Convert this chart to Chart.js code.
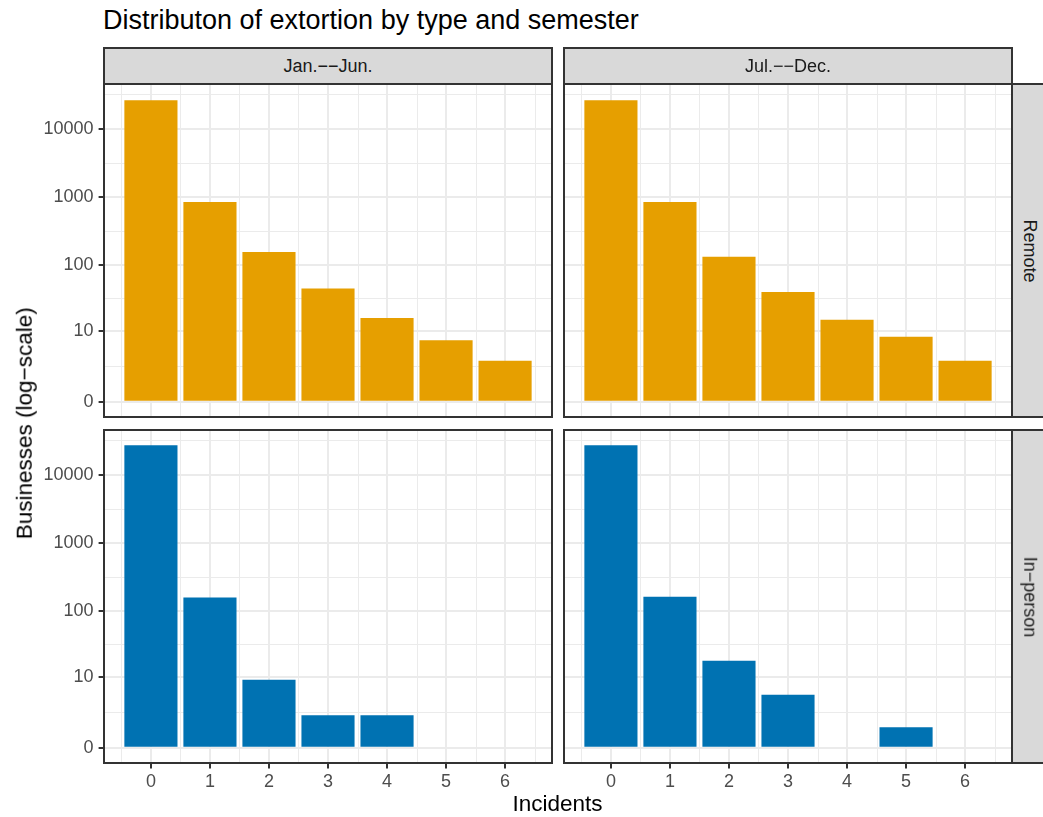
<!DOCTYPE html>
<html><head><meta charset="utf-8">
<script src="https://cdn.jsdelivr.net/npm/chart.js@4.4.1/dist/chart.umd.min.js"></script>
<style>
html,body{margin:0;padding:0;background:#fff;overflow:hidden;}
#root{position:relative;width:1043px;height:817px;overflow:hidden;font-family:"Liberation Sans",Arial,sans-serif;background:#fff;}
canvas{position:absolute;}
.strip{position:absolute;box-sizing:border-box;background:#D9D9D9;border:2px solid #333333;display:flex;align-items:center;justify-content:center;color:#1A1A1A;font-size:18px;line-height:1;white-space:nowrap;overflow:hidden;}
.txt{position:absolute;line-height:1;white-space:nowrap;color:#000;}
</style></head><body><div id="root"></div>
<script>
// ---- data ----
const incidents = [0, 1, 2, 3, 4, 5, 6];
const semesters = ["Jan.−−Jun.", "Jul.−−Dec."];
const extortionTypes = ["Remote", "In−person"];
const remoteJanJun = [26850, 860, 158, 45, 16, 7, 3];
const remoteJulDec = [26850, 860, 134, 40, 15, 8, 3];
const inPersonJanJun = [27800, 160, 9, 2, 2, 0, 0];
const inPersonJulDec = [27800, 164, 18, 5, 0, 1, 0];
const yTickLabels = [0, 10, 100, 1000, 10000];
const xTickLabels = [0, 1, 2, 3, 4, 5, 6];
const typeColors = ["#E69F00", "#0072B2"];

// ---- layout / style ----
const FONT = '"Liberation Sans", Arial, sans-serif';
const GRID = '#EBEBEB';
const INK = '#333333';
const PW = 448, PH = 333, M = 6, AXH = 40;
const colX = [104, 564], rowY = [84, 430];

Chart.defaults.font.family = FONT;

const tr = v => Math.log10(v + 1);
const allSeries = [remoteJanJun, remoteJulDec, inPersonJanJun, inPersonJulDec];
const maxT = Math.max(...allSeries.flat().map(tr));
const yLo = 0 - 0.05 * maxT, yHi = maxT + 0.05 * maxT;
const xHalf = 0.45;
const xr0 = Math.min(...incidents) - xHalf, xr1 = Math.max(...incidents) + xHalf;
const xLo = xr0 - 0.05 * (xr1 - xr0), xHi = xr1 + 0.05 * (xr1 - xr0);
const yMajor = yTickLabels.map(tr);
const xMajor = xTickLabels.slice();

function minorBreaks(maj, lo, hi) {
  const b = maj.slice(); const bd = b[1] - b[0];
  if (lo < b[0]) b.unshift(b[0] - bd);
  if (hi > b[b.length - 1]) b.push(b[b.length - 1] + bd);
  const out = [];
  for (let i = 0; i < b.length - 1; i++) { const m = (b[i] + b[i + 1]) / 2; if (m >= lo && m <= hi) out.push(m); }
  return out;
}
const yMinor = minorBreaks(yMajor, yLo, yHi);
const xMinor = minorBreaks(xMajor, xLo, xHi);

const panelPlugin = {
  id: 'panelDeco',
  beforeDatasetsDraw(chart) {
    const { ctx, chartArea: a } = chart; const x = chart.scales.x, y = chart.scales.y;
    ctx.save();
    ctx.strokeStyle = GRID; ctx.lineWidth = 1;
    ctx.beginPath();
    yMinor.forEach(v => { const p = Math.round(y.getPixelForValue(v)) + 0.5; ctx.moveTo(a.left, p); ctx.lineTo(a.right, p); });
    xMinor.forEach(v => { const p = Math.round(x.getPixelForValue(v)) + 0.5; ctx.moveTo(p, a.top); ctx.lineTo(p, a.bottom); });
    ctx.stroke();
    ctx.restore();
  },
  afterDraw(chart) {
    const { ctx, chartArea: a } = chart;
    ctx.save();
    ctx.strokeStyle = INK; ctx.lineWidth = 2;
    ctx.strokeRect(a.left, a.top, a.right - a.left, a.bottom - a.top);
    ctx.restore();
  }
};

function zeroPad(s) { s.paddingTop = 0; s.paddingBottom = 0; s.paddingLeft = 0; s.paddingRight = 0; }

const root = document.getElementById('root');

const panels = [
  { row: 0, col: 0, values: remoteJanJun, color: typeColors[0] },
  { row: 0, col: 1, values: remoteJulDec, color: typeColors[0] },
  { row: 1, col: 0, values: inPersonJanJun, color: typeColors[1] },
  { row: 1, col: 1, values: inPersonJulDec, color: typeColors[1] }
];

panels.forEach(p => {
  const showY = p.col === 0, showX = p.row === 1;
  const left = showY ? 0 : colX[p.col] - M;
  const top = rowY[p.row] - M;
  const w = colX[p.col] + PW + M - left;
  const h = M + PH + (showX ? AXH : M);
  const cv = document.createElement('canvas');
  cv.width = w; cv.height = h;
  cv.style.left = left + 'px'; cv.style.top = top + 'px';
  cv.style.width = w + 'px'; cv.style.height = h + 'px';
  root.appendChild(cv);
  new Chart(cv, {
    type: 'bar',
    data: {
      datasets: [{
        data: incidents.map((x, i) => ({ x: x, y: tr(p.values[i]) })),
        backgroundColor: p.color, borderWidth: 0,
        categoryPercentage: 1, barPercentage: 0.9
      }]
    },
    options: {
      responsive: false, animation: false, devicePixelRatio: 1, events: [],
      layout: { padding: { top: M, right: M, left: showY ? 0 : M, bottom: showX ? 0 : M } },
      plugins: { legend: { display: false }, tooltip: { enabled: false }, title: { display: false } },
      scales: {
        x: {
          type: 'linear', min: xLo, max: xHi, position: 'bottom', offset: false,
          border: { display: false },
          grid: { offset: false, color: GRID, lineWidth: 2, drawTicks: showX, tickLength: 5.4, tickColor: INK, tickWidth: 2 },
          ticks: { display: showX, autoSkip: false, maxRotation: 0, minRotation: 0, padding: 3, color: '#4D4D4D',
                   font: { family: FONT, size: 18 }, callback: (v, i) => String(xTickLabels[i]) },
          afterBuildTicks: s => { s.ticks = xMajor.map(v => ({ value: v })); },
          afterFit: s => { s.height = showX ? AXH : 0; zeroPad(s); }
        },
        y: {
          type: 'linear', min: yLo, max: yHi, position: 'left', offset: false,
          border: { display: false },
          grid: { offset: false, color: GRID, lineWidth: 2, drawTicks: showY, tickLength: 5.4, tickColor: INK, tickWidth: 2 },
          ticks: { display: showY, autoSkip: false, padding: 5, color: '#4D4D4D',
                   font: { family: FONT, size: 18 }, callback: (v, i) => String(yTickLabels[i]) },
          afterBuildTicks: s => { s.ticks = yMajor.map(v => ({ value: v })); },
          afterFit: s => { s.width = showY ? colX[0] : 0; zeroPad(s); }
        }
      }
    },
    plugins: [panelPlugin]
  });
});

// strips
semesters.forEach((s, c) => {
  const d = document.createElement('div');
  d.className = 'strip';
  d.style.left = (colX[c] - 1) + 'px'; d.style.top = '47px';
  d.style.width = (PW + 2) + 'px'; d.style.height = (rowY[0] - 48 + 2) + 'px';
  d.textContent = s;
  root.appendChild(d);
});
extortionTypes.forEach((s, r) => {
  const d = document.createElement('div');
  d.className = 'strip';
  d.style.left = (colX[1] + PW - 1) + 'px'; d.style.top = (rowY[r] - 1) + 'px';
  d.style.width = '38px'; d.style.height = (PH + 2) + 'px';
  const sp = document.createElement('span');
  sp.style.display = 'inline-block'; sp.style.transform = 'rotate(90deg)';
  sp.textContent = s;
  d.appendChild(sp);
  root.appendChild(d);
});

function addText(txt, opts) {
  const d = document.createElement('div');
  d.className = 'txt';
  d.textContent = txt;
  Object.assign(d.style, opts);
  root.appendChild(d);
  return d;
}
addText('Distributon of extortion by type and semester', { left: '103px', top: '6.8px', fontSize: '27px' });
addText('Incidents', { left: (557.5 - 200) + 'px', width: '400px', textAlign: 'center', top: '793.3px', fontSize: '22.5px' });
addText('Businesses (log−scale)', { left: (24.5 - 200) + 'px', width: '400px', textAlign: 'center', top: (423 - 11.25) + 'px', fontSize: '22.5px', transform: 'rotate(-90deg)', transformOrigin: '50% 50%' });
</script>
</body></html>
